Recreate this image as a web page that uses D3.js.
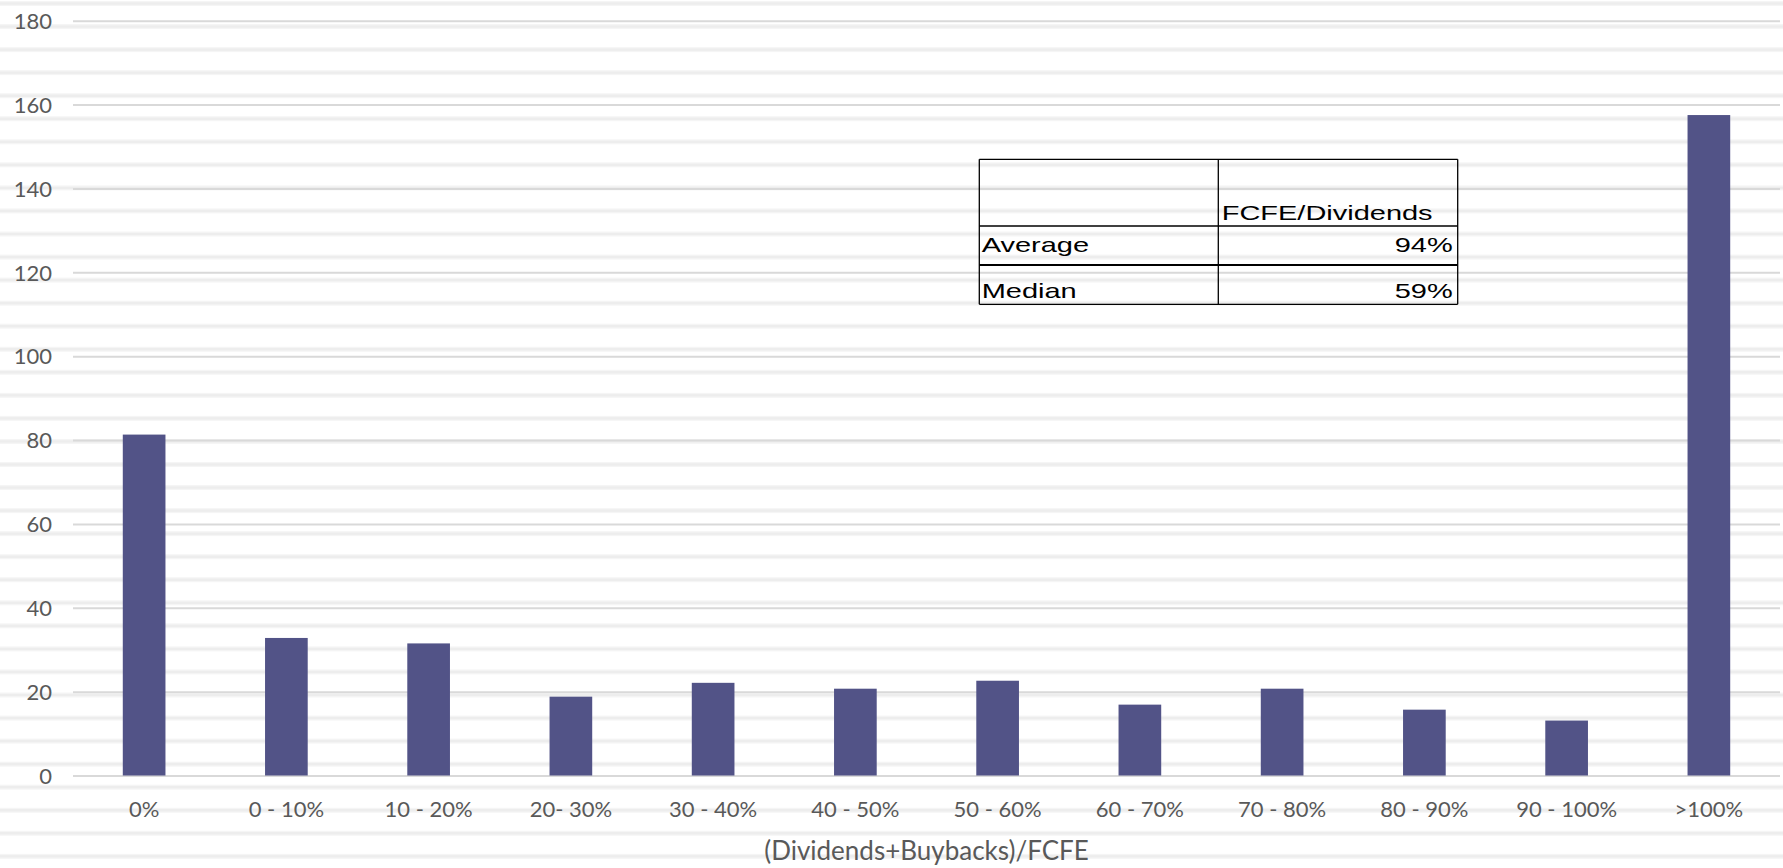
<!DOCTYPE html>
<html>
<head>
<meta charset="utf-8">
<script src="https://cdn.jsdelivr.net/npm/d3@7"></script>
<style>
  html, body { margin: 0; padding: 0; background: #ffffff; }
  svg { display: block; }
</style>
</head>
<body>
<svg id="chart" width="1783" height="868"></svg>
<script>
// ---- data ----
const categories = ["0%", "0 - 10%", "10 - 20%", "20- 30%", "30 - 40%", "40 - 50%", "50 - 60%", "60 - 70%", "70 - 80%", "80 - 90%", "90 - 100%", ">100%"];
const counts = [81.3, 32.8, 31.5, 18.8, 22.1, 20.7, 22.6, 16.9, 20.7, 15.7, 13.1, 157.5];
const yTicks = [0, 20, 40, 60, 80, 100, 120, 140, 160, 180];
const xTitle = "(Dividends+Buybacks)/FCFE";
const tableHeader = "FCFE/Dividends";
const tableRows = ["Average", "Median"];
const tableValues = ["94%", "59%"];

// ---- layout ----
const W = 1783, H = 868;
const svg = d3.select("#chart");
const plotL = 73, plotR = 1780, plotB = 775.5, plotT = 20.7;
const x = d3.scaleBand().domain(categories).range([plotL, plotR]).paddingInner(0.7).paddingOuter(0.35);
const y = d3.scaleLinear().domain([0, 180]).range([plotB, plotT]);
const labelFont = "Lato, 'Open Sans', sans-serif";

// background stripes (decorative)
const stripes = svg.append("g");
for (let i = 0; i < 38; i++) {
  const sy = 3.5 + 23.05 * i;
  stripes.append("rect").attr("x", 0).attr("y", sy - 2.5).attr("width", W).attr("height", 5).attr("fill", "#f5f5f5");
  stripes.append("rect").attr("x", 0).attr("y", sy - 1.2).attr("width", W).attr("height", 2.4).attr("fill", "#ededed");
}

// gridlines + y axis
const yAxis = d3.axisLeft(y).tickValues(yTicks).tickSize(-(plotR - plotL)).tickPadding(21);
const gy = svg.append("g").attr("transform", `translate(${plotL},0)`).call(yAxis);
gy.select(".domain").remove();
gy.selectAll(".tick line").attr("stroke", "#d9d9d9").attr("stroke-width", 2);
gy.selectAll(".tick text")
  .attr("fill", "#595959").attr("font-family", labelFont).attr("font-size", 22)
  .attr("dy", "0.35em");

// bars
svg.append("g").selectAll("rect").data(categories).join("rect")
  .attr("x", d => x(d))
  .attr("width", x.bandwidth())
  .attr("y", (d, i) => y(counts[i]))
  .attr("height", (d, i) => y(0) - y(counts[i]))
  .attr("fill", "#525387");

// x axis labels
const xAxis = d3.axisBottom(x).tickSize(0).tickPadding(26);
const gx = svg.append("g").attr("transform", `translate(0,${plotB})`).call(xAxis);
gx.select(".domain").remove();
gx.selectAll(".tick text")
  .attr("fill", "#595959").attr("font-family", labelFont).attr("font-size", 22);

// x title
svg.append("text")
  .attr("x", (plotL + plotR) / 2).attr("y", 860)
  .attr("text-anchor", "middle")
  .attr("fill", "#595959").attr("font-family", labelFont).attr("font-size", 26)
  .text(xTitle);

// ---- embedded table ----
const tL = 979.3, tM = 1218.3, tR = 1457.7;
const tTop = 159.3, tH = 226, tMid = 265, tBot = 304.3;
const tg = svg.append("g");
const ln = (x1, y1, x2, y2, w) => tg.append("line").attr("x1", x1).attr("y1", y1).attr("x2", x2).attr("y2", y2)
  .attr("stroke", "#000").attr("stroke-width", w);
ln(tL, tTop, tR, tTop, 1.3);
ln(tL, tH, tR, tH, 1.3);
ln(tL, tMid, tR, tMid, 2);
ln(tL, tBot, tR, tBot, 1.3);
ln(tL, tTop, tL, tBot, 1.3);
ln(tM, tTop, tM, tBot, 1.3);
ln(tR, tTop, tR, tBot, 1.3);

const sx = 1.38;
const tText = (tx, ty, s, anchor) => tg.append("text")
  .attr("transform", `translate(${tx},${ty}) scale(${sx},1)`)
  .attr("text-anchor", anchor)
  .attr("font-family", "'Liberation Sans', Arial, sans-serif").attr("font-size", 21)
  .attr("fill", "#000").text(s);
tText(tM + 3.4, 220, tableHeader, "start");
const rowBase = [251.7, 298.3];
tableRows.forEach((r, i) => {
  tText(tL + 2.4, rowBase[i], r, "start");
  tText(tR - 5, rowBase[i], tableValues[i], "end");
});
</script>
</body>
</html>
